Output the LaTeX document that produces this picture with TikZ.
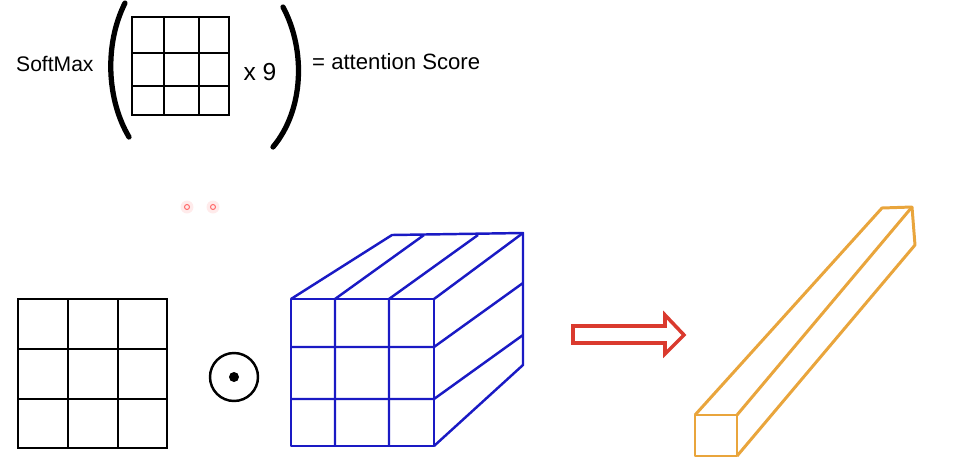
\documentclass[tikz,border=0pt]{standalone}
\usepackage{fontspec}
\setmainfont{Liberation Sans}
\definecolor{cuboazul}{HTML}{1A1AC4}
\definecolor{barranaranja}{HTML}{E9A53C}
\definecolor{flechaon}{HTML}{DA3A2E}
\begin{document}
\begin{tikzpicture}[
    x=0.02cm,
    y=-0.02cm,
    font=\fontsize{12}{14}\selectfont,
    rejilla/.style={line width=1pt,black},
    cubo/.style={line width=1.4pt,cuboazul,line join=round},
    barra/.style={line width=1.7pt,barranaranja,line join=round},
    parentesis/.style={line width=3pt,line cap=round},
    puntero/.style={draw=red!55,line width=0.6pt}
]
    \useasboundingbox (0,0) rectangle (968,474);

    % Formula superior
    \node[anchor=west] (softmax) at (10,64) {SoftMax};
    \draw[parentesis] (125,3) .. controls (104,45) and (107,100) .. (129,137);
    \draw[rejilla] (132,17) rectangle (229,115);
    \foreach \x in {164,199}{
        \draw[rejilla] (\x,17) -- (\x,115);
    }
    \foreach \y in {53,86}{
        \draw[rejilla] (132,\y) -- (229,\y);
    }
    \node[font=\fontsize{14}{16}\selectfont] (veces) at (260,72) {x 9};
    \draw[parentesis] (283,7) .. controls (306,50) and (304,110) .. (273,147);
    \node[anchor=west,font=\fontsize{12.6}{15}\selectfont] (score) at (306,62) {= attention Score};

    % Punteros
    \foreach \x in {187,213}{
        \fill[red!8] (\x,207) circle[radius=0.13cm];
        \draw[puntero] (\x,207) circle[radius=0.05cm];
    }

    % Matriz 3x3
    \draw[rejilla] (18,299) rectangle (167,448);
    \foreach \x in {68,118}{
        \draw[rejilla] (\x,299) -- (\x,448);
    }
    \foreach \y in {349,399}{
        \draw[rejilla] (18,\y) -- (167,\y);
    }

    % Producto elemento a elemento
    \draw[line width=1.4pt] (234,377) circle[radius=0.48cm];
    \fill (234,377) circle[radius=0.1cm];

    % Cubo de valores
    \draw[cubo] (291,299) rectangle (434,446);
    \foreach \x in {335,389}{
        \draw[cubo] (\x,446) -- (\x,299) -- ++(89,-64);
    }
    \foreach \y in {347,399}{
        \draw[cubo] (291,\y) -- (434,\y) -- ++(89,-64);
    }
    \draw[cubo] (291,299) -- (392,235) -- (523,233) -- (523,365) -- (434,446);
    \draw[cubo] (434,299) -- (523,233);

    % Flecha
    \draw[line width=2pt,flechaon,line join=miter,fill=white]
        (573,326) -- (665,326) -- (665,315) -- (684,335) -- (665,354)
        -- (665,343) -- (573,343) -- cycle;

    % Vector resultado
    \draw[barra] (695,415) rectangle (737,456);
    \draw[barra] (695,415) -- (882,208) -- (912,207) -- (915,245) -- (737,456);
    \draw[barra] (737,415) -- (912,207);
\end{tikzpicture}
\end{document}
